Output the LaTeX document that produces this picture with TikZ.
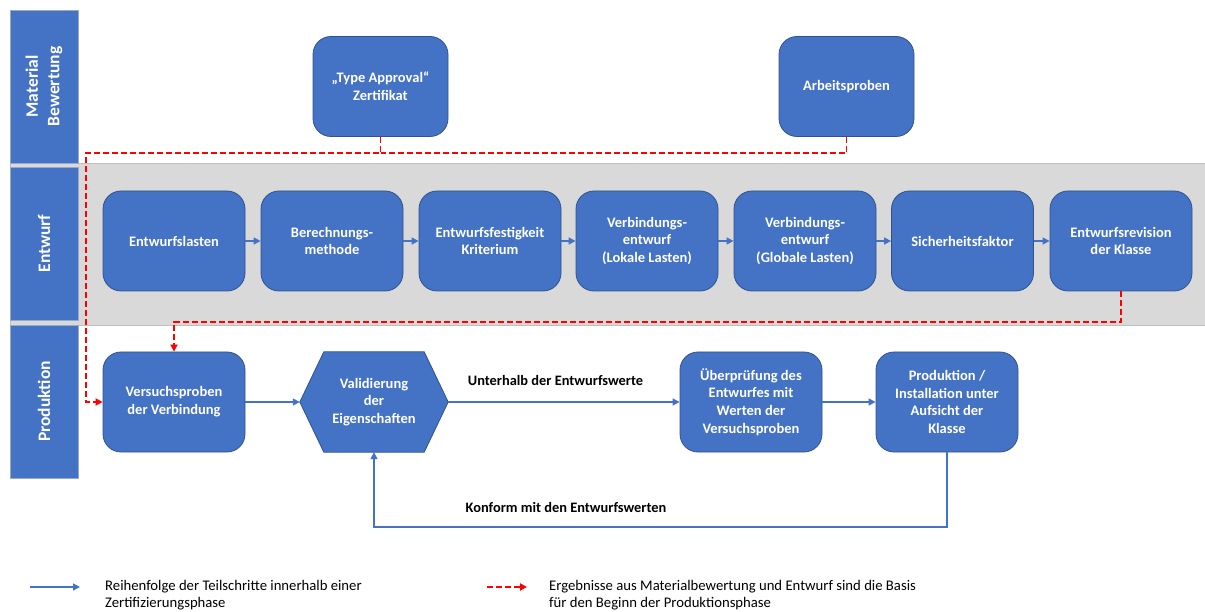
\documentclass[tikz,border=0pt]{standalone}
\usepackage{fontspec}
\setmainfont{Carlito}
\usetikzlibrary{arrows.meta,backgrounds}
\definecolor{boxblue}{HTML}{4472C4}
\definecolor{boxedge}{HTML}{2F528F}
\definecolor{bandgray}{HTML}{D9D9D9}
\definecolor{bandedge}{HTML}{BFBFBF}
\definecolor{flowred}{HTML}{FF0000}

\tikzset{
  boxfont/.style={font=\fontsize{14.5}{17.8}\selectfont\bfseries},
  stepbox/.style={draw=boxedge, line width=0.8pt, fill=boxblue, rounded corners=18pt,
    minimum width=142pt, minimum height=100pt, text=white, align=center, inner sep=2pt,
    boxfont},
  lane/.style={draw=boxedge!50, line width=0.6pt, fill=boxblue, rotate=90,
    minimum width=153pt, minimum height=68pt, text=white, align=center, inner sep=0pt,
    font=\fontsize{17.5}{21.5}\selectfont\bfseries},
  flow/.style={draw=boxblue, line width=1.5pt, -{Triangle[length=7pt,width=7pt]}},
  result/.style={draw=flowred, line width=1.8pt, dash pattern=on 6pt off 3pt,
    -{Triangle[length=7pt,width=7pt]}},
  note/.style={text=black, font=\fontsize{14.4}{17}\selectfont\bfseries},
  legend/.style={text=black, align=left, anchor=west, inner sep=0pt,
    font=\fontsize{14.7}{16.5}\selectfont},
}

\begin{document}
\begin{tikzpicture}[x=1pt, y=-1pt]
\useasboundingbox (0,0) rectangle (1205,612);

% design band
\filldraw[fill=bandgray, draw=bandedge, line width=0.8pt] (10,163) rectangle (1205,325);

% lane headers
\node[lane] (lmat) at (44,86.5) {Material\\Bewertung};
\node[lane] (lent) at (44,243.5) {Entwurf};
\node[lane] (lpro) at (44,401.5) {Produktion};

% material assessment
\node[stepbox, minimum width=135pt] (ta) at (380.5,86.5) {„Type Approval“\\Zertifikat};
\node[stepbox, minimum width=135pt] (ap) at (846.5,86.5) {Arbeitsproben};

% design steps
\node[stepbox] (e1) at (174,241) {Entwurfslasten};
\node[stepbox] (e2) at (332,241) {Berechnungs-\\methode};
\node[stepbox] (e3) at (490,241) {Entwurfsfestigkeit\\Kriterium};
\node[stepbox] (e4) at (647,241) {Verbindungs-\\entwurf\\(Lokale Lasten)};
\node[stepbox] (e5) at (805,241) {Verbindungs-\\entwurf\\(Globale Lasten)};
\node[stepbox] (e6) at (962.5,241) {Sicherheitsfaktor};
\node[stepbox] (e7) at (1121,241) {Entwurfsrevision\\der Klasse};

\foreach \a/\b in {e1/e2,e2/e3,e3/e4,e4/e5,e5/e6,e6/e7}
  \draw[flow] (\a.east) -- (\b.west);

% production steps
\node[stepbox] (vp) at (174,402) {Versuchsproben\\der Verbindung};
\node[minimum width=148pt, minimum height=100pt, inner sep=0pt, text=white, align=center,
  boxfont] (hx) at (374,402) {Validierung\\der\\Eigenschaften};
\begin{scope}[on background layer]
  \filldraw[fill=boxblue, draw=boxedge, line width=0.8pt]
    (hx.west) -- ([xshift=24pt]hx.north west) -- ([xshift=-24pt]hx.north east)
    -- (hx.east) -- ([xshift=-24pt]hx.south east) -- ([xshift=24pt]hx.south west) -- cycle;
\end{scope}
\node[stepbox] (ue) at (751,402) {Überprüfung des\\Entwurfes mit\\Werten der\\Versuchsproben};
\node[stepbox] (pr) at (947,402) {Produktion /\\Installation unter\\Aufsicht der\\Klasse};

\draw[flow] (vp.east) -- (hx.west);
\draw[flow] (hx.east) -- (ue.west);
\draw[flow] (ue.east) -- (pr.west);
\coordinate (loop) at (374,527);
\draw[flow] (pr.south) |- (loop) -- (hx.south);

\node[note] (lbu) at (555.5,381) {Unterhalb der Entwurfswerte};
\node[note] (lbk) at (566,507) {Konform mit den Entwurfswerten};

% results feeding the production phase
\coordinate (rj) at (86,153);
\coordinate (rk) at (174,322);
\draw[result] (ta.south) |- (rj) |- (vp.west);
\draw[draw=flowred, line width=1.8pt, dash pattern=on 6pt off 3pt] (ap.south) |- (ta.south |- rj);
\draw[result] (e7.south) |- (rk) -- (vp.north);

% legend
\coordinate (lg1) at (30,587);
\coordinate (lg2) at (80,587);
\draw[flow] (lg1) -- (lg2);
\node[legend] (lgt1) at (105,595) {Reihenfolge der Teilschritte innerhalb einer\\Zertifizierungsphase};
\coordinate (lg3) at (487,587);
\coordinate (lg4) at (527,587);
\draw[result] (lg3) -- (lg4);
\node[legend] (lgt2) at (549,595) {Ergebnisse aus Materialbewertung und Entwurf sind die Basis\\für den Beginn der Produktionsphase};
\end{tikzpicture}
\end{document}
